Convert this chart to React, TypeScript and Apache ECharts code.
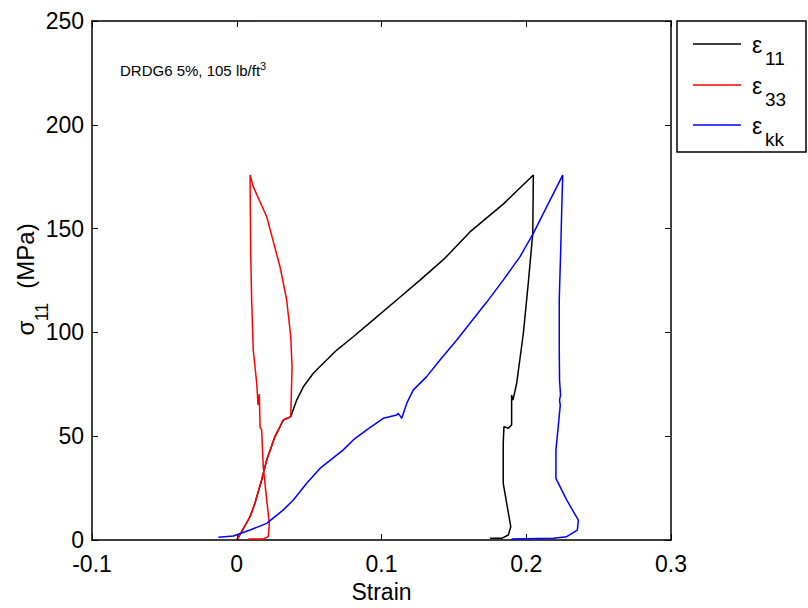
import React, { useEffect, useRef } from "react";
import * as echarts from "echarts";

// Strain (x) and stress σ11 in MPa (y) for each curve
const e11Strain = [0, 0.0034, 0.0092, 0.0126, 0.0172, 0.0207, 0.0264, 0.0322, 0.0373, 0.0414, 0.046, 0.0529, 0.0598, 0.0691, 0.0805, 0.0943, 0.1105, 0.1266, 0.1439, 0.1611, 0.1841, 0.2049, 0.2045, 0.2014, 0.198, 0.1934, 0.1908, 0.1899, 0.1899, 0.1876, 0.1846, 0.1841, 0.1841, 0.1865, 0.1893, 0.1876, 0.183, 0.175];
const e11Stress = [0, 4.0, 11.2, 17.8, 28.9, 38.5, 49.8, 57.8, 59.4, 67.4, 73.8, 80.3, 85.1, 91.5, 97.9, 106.0, 115.6, 125.2, 135.8, 148.4, 161.8, 175.8, 147.7, 123.7, 99.6, 75.5, 67.4, 69.8, 55.4, 53.8, 54.6, 46.6, 27.3, 17.7, 6.4, 2.4, 0.8, 0.8];

const e33Strain = [0.0005, 0.0034, 0.0092, 0.0126, 0.0172, 0.0207, 0.0264, 0.0322, 0.0373, 0.0382, 0.0373, 0.0345, 0.0299, 0.0207, 0.0114, 0.0092, 0.0096, 0.0103, 0.0114, 0.0138, 0.0147, 0.0156, 0.0161, 0.0172, 0.0183, 0.0207, 0.0225, 0.0218, 0.0183, 0.008];
const e33Stress = [0.5, 4.0, 11.2, 17.8, 28.9, 38.5, 49.8, 57.8, 59.4, 83.5, 97.9, 115.6, 131.6, 155.7, 170.2, 175.8, 139.7, 115.6, 91.5, 75.5, 65.0, 70.3, 54.4, 53.0, 35.3, 19.3, 8.0, 1.6, 0.5, 0.5];

const ekkStrain = [-0.0127, -0.0024, 0.0092, 0.0207, 0.0322, 0.0391, 0.0483, 0.0575, 0.0736, 0.0805, 0.0898, 0.1012, 0.1105, 0.1116, 0.114, 0.1174, 0.122, 0.1312, 0.1404, 0.152, 0.1611, 0.1727, 0.1841, 0.1957, 0.2049, 0.2141, 0.2252, 0.2245, 0.2238, 0.2228, 0.2228, 0.223, 0.2237, 0.223, 0.2235, 0.2221, 0.2205, 0.2205, 0.2279, 0.236, 0.2353, 0.2279, 0.2187, 0.1899];
const ekkStress = [1.3, 1.9, 4.8, 8.0, 14.5, 19.3, 27.3, 34.5, 43.4, 48.2, 53.0, 58.6, 60.2, 61.0, 58.6, 65.8, 72.3, 78.7, 86.7, 96.3, 104.4, 114.6, 125.2, 136.5, 147.7, 160.5, 175.8, 159.0, 139.7, 115.6, 91.5, 77.1, 69.8, 67.4, 65.0, 54.6, 43.4, 29.7, 19.3, 9.6, 4.8, 1.6, 0.8, 0.5];

const seriesNames = ["ε11", "ε33", "εkk"];
const legendMain = ["ε", "ε", "ε"];
const legendSub = ["11", "33", "kk"];
const seriesColors = ["#000000", "#ff0000", "#0000ff"];

const FONT = "Liberation Sans, Arial, sans-serif";

const zip = (xs: number[], ys: number[]) => xs.map((x, i) => [x, ys[i]]);

export default function App() {
  const ref = useRef<HTMLDivElement>(null);

  useEffect(() => {
    if (!ref.current) return;
    const chart = echarts.init(ref.current, undefined, { renderer: "svg" });

    const axisCommon = {
      axisLine: { show: true, onZero: false, lineStyle: { color: "#000", width: 1.5 } },
      axisTick: { show: true, inside: true, length: 6, lineStyle: { color: "#000", width: 1 } },
      splitLine: { show: false },
    };

    const datasets = [zip(e11Strain, e11Stress), zip(e33Strain, e33Stress), zip(ekkStrain, ekkStress)];

    const legendLineY = [44, 85, 125];
    const legendGraphics: any[] = [
      {
        type: "rect",
        shape: { x: 677, y: 21, width: 129, height: 131 },
        style: { fill: "#fff", stroke: "#000", lineWidth: 1.5 },
      },
    ];
    legendLineY.forEach((ly, i) => {
      legendGraphics.push({
        type: "line",
        shape: { x1: 693, y1: ly, x2: 741, y2: ly },
        style: { stroke: seriesColors[i], lineWidth: 1.5 },
      });
      legendGraphics.push({
        type: "text",
        x: 752,
        y: ly + 1,
        style: { text: legendMain[i], font: `23px ${FONT}`, fill: "#000", align: "left", verticalAlign: "middle" },
      });
      legendGraphics.push({
        type: "text",
        x: 765,
        y: ly + 14,
        style: { text: legendSub[i], font: `19px ${FONT}`, fill: "#000", align: "left", verticalAlign: "middle" },
      });
    });

    const option: any = {
      animation: false,
      backgroundColor: "#fff",
      grid: { left: 92, top: 21, right: 137, bottom: 68, containLabel: false },
      xAxis: [
        {
          type: "value",
          min: -0.1,
          max: 0.3,
          interval: 0.1,
          position: "bottom",
          ...axisCommon,
          axisLabel: { color: "#000", fontSize: 23, fontFamily: FONT, margin: 12 },
          name: "Strain",
          nameLocation: "middle",
          nameGap: 40,
          nameTextStyle: { color: "#000", fontSize: 23, fontFamily: FONT },
        },
        {
          type: "value",
          min: -0.1,
          max: 0.3,
          interval: 0.1,
          position: "top",
          ...axisCommon,
          axisLabel: { show: false },
        },
      ],
      yAxis: [
        {
          type: "value",
          min: 0,
          max: 250,
          interval: 50,
          position: "left",
          ...axisCommon,
          axisLabel: { color: "#000", fontSize: 23, fontFamily: FONT, margin: 8 },
        },
        {
          type: "value",
          min: 0,
          max: 250,
          interval: 50,
          position: "right",
          ...axisCommon,
          axisLabel: { show: false },
        },
      ],
      series: datasets.map((d, i) => ({
        name: seriesNames[i],
        type: "line",
        xAxisIndex: 0,
        yAxisIndex: 0,
        data: d,
        showSymbol: false,
        symbol: "none",
        silent: true,
        lineStyle: { color: seriesColors[i], width: 1.5 },
        itemStyle: { color: seriesColors[i] },
      })),
      graphic: [
        {
          type: "text",
          x: 120,
          y: 70,
          style: {
            text: "{a|DRDG6 5%, 105 lb/ft}{b|3}",
            align: "left",
            verticalAlign: "middle",
            rich: {
              a: { fontSize: 15, fontFamily: FONT, fill: "#000", color: "#000" },
              b: { fontSize: 11, fontFamily: FONT, fill: "#000", color: "#000", padding: [0, 0, 9, 0] },
            },
          },
        },
        {
          type: "text",
          x: 25,
          y: 328,
          rotation: Math.PI / 2,
          style: { text: "σ", font: `24px ${FONT}`, fill: "#000", align: "center", verticalAlign: "middle" },
        },
        {
          type: "text",
          x: 42,
          y: 312,
          rotation: Math.PI / 2,
          style: { text: "11", font: `18px ${FONT}`, fill: "#000", align: "center", verticalAlign: "middle" },
        },
        {
          type: "text",
          x: 25,
          y: 256,
          rotation: Math.PI / 2,
          style: { text: "(MPa)", font: `24px ${FONT}`, fill: "#000", align: "center", verticalAlign: "middle" },
        },
        ...legendGraphics,
      ],
    };

    chart.setOption(option);
    return () => chart.dispose();
  }, []);

  return (
    <div
      ref={ref}
      style={{ position: "fixed", left: 0, top: 0, width: 808, height: 608, background: "#fff" }}
    />
  );
}
